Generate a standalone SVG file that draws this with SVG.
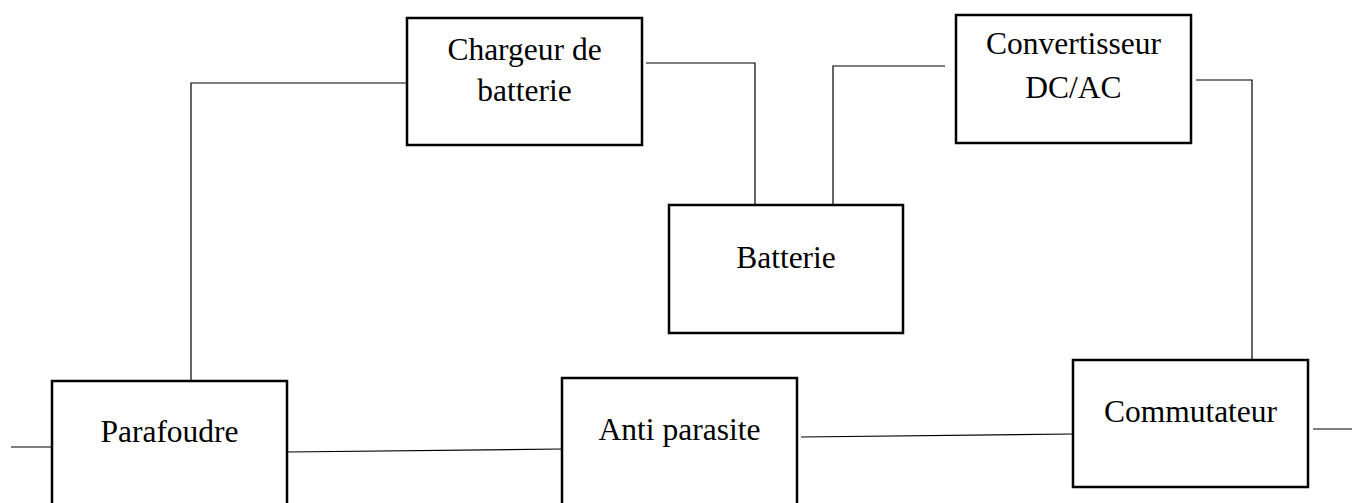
<svg xmlns="http://www.w3.org/2000/svg" width="1352" height="503" viewBox="0 0 1352 503">
<style>
.box{fill:#fff;stroke:#000;stroke-width:2.5}
.lbl{font-family:"Liberation Serif","Times New Roman",serif;font-size:31.5px;fill:#000;text-anchor:middle}
.wire{fill:none;stroke:#000;stroke-width:1.2}
</style>
<rect width="1352" height="503" fill="#fff"/>
<g id="connectors">
<polyline class="wire" points="191,380 191,83 407,83"/>
<polyline class="wire" points="646,63 755,63 755,205"/>
<polyline class="wire" points="833,205 833,66 945,66"/>
<polyline class="wire" points="1196,80 1252,80 1252,360"/>
<line class="wire" x1="11" y1="447" x2="55" y2="447"/>
<line class="wire" x1="287" y1="452" x2="562" y2="449"/>
<line class="wire" x1="801" y1="437" x2="1073" y2="434"/>
<line class="wire" x1="1313" y1="429" x2="1352" y2="429"/>
</g>
<g id="chargeur">
<rect class="box" x="407" y="18" width="235" height="127"/>
<text class="lbl" x="524.5" y="60">Chargeur de</text>
<text class="lbl" x="524.5" y="101">batterie</text>
</g>
<g id="convertisseur">
<rect class="box" x="956" y="15" width="235" height="128"/>
<text class="lbl" x="1073.5" y="54">Convertisseur</text>
<text class="lbl" x="1073.5" y="98">DC/AC</text>
</g>
<g id="batterie">
<rect class="box" x="669" y="205" width="234" height="128"/>
<text class="lbl" x="786" y="268">Batterie</text>
</g>
<g id="parafoudre">
<rect class="box" x="52" y="381" width="235" height="140"/>
<text class="lbl" x="169.5" y="442">Parafoudre</text>
</g>
<g id="antiparasite">
<rect class="box" x="562" y="378" width="235" height="140"/>
<text class="lbl" x="679.5" y="440">Anti parasite</text>
</g>
<g id="commutateur">
<rect class="box" x="1073" y="360" width="235" height="127"/>
<text class="lbl" x="1190.5" y="422">Commutateur</text>
</g>
</svg>
